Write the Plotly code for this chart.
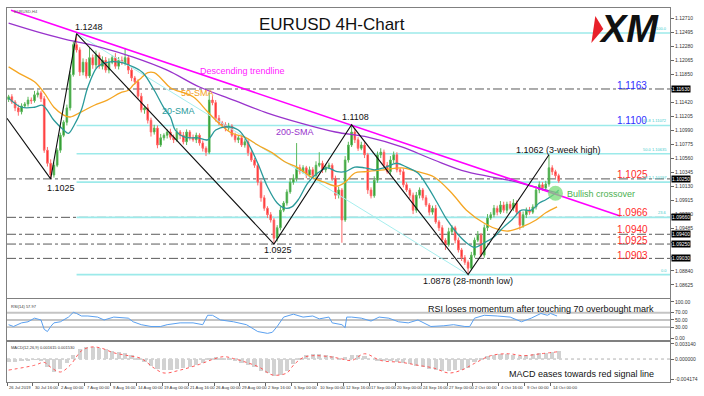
import plotly.graph_objects as go

FONT = "Liberation Sans, Arial, sans-serif"

# ---------------- data ----------------
first_open = 1.1147
close = [
    1.1151, 1.1143, 1.1134, 1.1128, 1.1137, 1.1140, 1.1146, 1.1145, 1.1154, 1.1157,
    1.1148, 1.1069, 1.1049, 1.1031, 1.1046, 1.1069, 1.1092, 1.1112, 1.1134, 1.1185,
    1.1231, 1.1223, 1.1189, 1.1204, 1.1183, 1.1211, 1.1200, 1.1215, 1.1198, 1.1207,
    1.1192, 1.1204, 1.1211, 1.1198, 1.1207, 1.1203, 1.1211, 1.1192, 1.1180, 1.1174,
    1.1152, 1.1131, 1.1134, 1.1115, 1.1097, 1.1103, 1.1077, 1.1088, 1.1092, 1.1097,
    1.1089, 1.1085, 1.1097, 1.1092, 1.1082, 1.1097, 1.1088, 1.1085, 1.1092, 1.1080,
    1.1072, 1.1066, 1.1146, 1.1142, 1.1118, 1.1111, 1.1108, 1.1103, 1.1106, 1.1092,
    1.1085, 1.1088, 1.1077, 1.1082, 1.1065, 1.1054, 1.1046, 1.1020, 1.0996, 1.0980,
    1.0970, 1.0962, 1.0934, 1.0950, 1.0977, 1.0988, 1.1005, 1.1020, 1.1026, 1.1042,
    1.1036, 1.1042, 1.1031, 1.1039, 1.1030, 1.1046, 1.1049, 1.1039, 1.1043, 1.1046,
    1.1026, 1.1000, 1.1008, 1.0962, 1.1054, 1.1077, 1.1097, 1.1085, 1.1072, 1.1077,
    1.1062, 1.1008, 1.0999, 1.1023, 1.1062, 1.1066, 1.1046, 1.1036, 1.1054, 1.1062,
    1.1039, 1.1036, 1.1016, 1.1008, 1.1000, 1.0977, 1.1000, 1.1008, 1.0996, 1.0985,
    1.0974, 1.0980, 1.0959, 1.0950, 1.0931, 1.0924, 1.0944, 1.0950, 1.0931, 1.0916,
    1.0904, 1.0897, 1.0888, 1.0908, 1.0931, 1.0939, 1.0908, 1.0950, 1.0965, 1.0970,
    1.0980, 1.0974, 1.0985, 1.0977, 1.0986, 1.0980, 1.0988, 1.0974, 1.0954, 1.0970,
    1.0977, 1.0974, 1.0982, 1.1008, 1.1016, 1.1011, 1.1017, 1.1042, 1.1036, 1.1030,
    1.1022,
]
upper_wick_pips = [
    3, 4, 3, 5, 4, 3, 5, 4, 6, 4,
    3, 4, 5, 6, 4, 3, 4, 3, 5, 6,
    5, 17, 4, 6, 5, 15, 5, 7, 4, 6,
    5, 6, 4, 7, 5, 6, 15, 4, 5, 3,
    4, 5, 3, 6, 4, 5, 4, 6, 3, 4,
    5, 4, 6, 3, 5, 4, 3, 5, 4, 3,
    4, 3, 12, 6, 4, 5, 3, 4, 5, 3,
    4, 3, 5, 4, 3, 4, 3, 2, 3, 4,
    3, 4, 3, 4, 5, 3, 4, 5, 6, 38,
    5, 4, 3, 5, 4, 6, 17, 4, 5, 4,
    3, 4, 5, 3, 6, 5, 11, 5, 4, 5,
    4, 3, 4, 6, 5, 6, 4, 5, 6, 5,
    4, 3, 5, 4, 3, 4, 5, 4, 3, 4,
    3, 4, 5, 3, 4, 3, 6, 4, 3, 4,
    3, 4, 3, 5, 4, 6, 3, 5, 6, 4,
    5, 4, 6, 5, 4, 5, 6, 4, 3, 5,
    4, 5, 4, 6, 5, 4, 5, 20, 4, 3,
    3,
]
lower_wick_pips = [
    4, 3, 5, 6, 4, 3, 4, 5, 3, 4,
    5, 4, 5, 6, 4, 3, 4, 3, 5, 4,
    3, 4, 6, 5, 4, 3, 6, 5, 4, 5,
    4, 5, 3, 4, 5, 3, 4, 6, 5, 4,
    5, 4, 6, 5, 7, 4, 5, 3, 4, 5,
    4, 5, 3, 6, 4, 5, 4, 3, 5, 4,
    5, 6, 3, 4, 5, 4, 3, 5, 4, 3,
    4, 5, 3, 4, 5, 3, 4, 5, 6, 4,
    5, 4, 9, 5, 4, 3, 4, 3, 4, 5,
    4, 3, 5, 4, 3, 4, 3, 5, 4, 3,
    4, 6, 5, 35, 3, 4, 3, 5, 4, 3,
    5, 6, 4, 3, 4, 5, 4, 3, 4, 5,
    4, 5, 4, 3, 5, 6, 4, 5, 4, 3,
    5, 4, 3, 5, 4, 8, 3, 4, 5, 4,
    5, 4, 10, 3, 4, 3, 3, 4, 5, 3,
    4, 5, 3, 4, 5, 3, 4, 5, 7, 4,
    5, 4, 3, 4, 5, 4, 3, 4, 5, 4,
    3,
]

sma20_bar = [1, 9, 17, 22, 29, 35, 38, 41, 46, 50, 56, 62, 70, 78, 84, 91, 97, 101, 104, 110,
             118, 124, 129, 135, 143, 149, 155, 161, 167, 172, 176, 180, 186, 192, 198, 204, 209, 215, 221, 227,
             233, 241, 247, 254, 260, 266, 272, 278, 284, 289, 295, 301, 307, 312, 318, 324, 329, 333, 339, 341]
sma20 = [1.1149, 1.1135, 1.1135, 1.1138, 1.1115, 1.1100, 1.1095, 1.1105, 1.1131, 1.1166,
         1.1197, 1.1204, 1.1204, 1.1197, 1.1188, 1.1161, 1.1134, 1.1120, 1.1100, 1.1089,
         1.1088, 1.1085, 1.1100, 1.1105, 1.1100, 1.1080, 1.1049, 1.1013, 1.0988, 1.0980,
         1.0982, 1.0993, 1.1019, 1.1034, 1.1042, 1.1036, 1.1036, 1.1043, 1.1042, 1.1039,
         1.1042, 1.1049, 1.1043, 1.1034, 1.1013, 1.0988, 1.0962, 1.0942, 1.0927, 1.0920,
         1.0927, 1.0936, 1.0951, 1.0962, 1.0977, 1.0977, 1.0988, 1.0993, 1.1003, 1.1008]

sma50_bar = [1, 9, 17, 23, 29, 35, 39, 46, 54, 62, 70, 75, 78, 83, 87, 91, 95, 101, 115, 124,
             132, 139, 147, 155, 164, 172, 180, 188, 196, 204, 209, 215, 221, 233, 244, 254, 264, 275, 284, 295,
             304, 310, 318, 327, 333, 340]
sma50 = [1.1197, 1.1185, 1.1174, 1.1157, 1.1135, 1.1123, 1.1120, 1.1128, 1.1138, 1.1146,
         1.1157, 1.1161, 1.1169, 1.1180, 1.1188, 1.1188, 1.1180, 1.1165, 1.1151, 1.1128,
         1.1108, 1.1095, 1.1089, 1.1077, 1.1065, 1.1051, 1.1042, 1.1028, 1.1020, 1.1014,
         1.1020, 1.1034, 1.1036, 1.1039, 1.1042, 1.1036, 1.1028, 1.1003, 1.0977, 1.0957,
         1.0947, 1.0945, 1.0951, 1.0962, 1.0973, 1.0982]

sma200_bar = [1, 21, 38, 44, 58, 78, 99, 119, 140, 161, 181, 203, 223, 244, 264, 284, 312, 333, 341]
sma200 = [1.1264, 1.1249, 1.1238, 1.1235, 1.1227, 1.1212, 1.1192, 1.1166, 1.1146, 1.1126,
          1.1111, 1.1097, 1.1089, 1.1074, 1.1054, 1.1036, 1.1022, 1.1008, 1.1003]

trend_bar = [2.5, 379]
trend_price = [1.1284, 1.0968]

zigzag_bar = [0, 27, 43, 165, 213, 285, 335]
zigzag_price = [1.1118, 1.1025, 1.1248, 1.0925, 1.1108, 1.0878, 1.1062]

fib_start_bar = 43
fib_levels = [1.1249, 1.1107, 1.10635, 1.1020, 1.0966, 1.0878]
fib_names = ["100.0", "61.8 1.11072", "50.0 1.10635", "38.2 1.10197", "23.6", "0.0"]
fib_diag_bar = [43, 285]
fib_diag_price = [1.1248, 1.0878]

sr_levels = [1.1163, 1.1025, 1.0966, 1.0940, 1.0925, 1.0903]
sr_box_text = ["1.11630", "1.10250", "1.09660", "1.09400", "1.09250", "1.09030"]

blue_text = ["1.1163", "1.1100"]
blue_pos = [1.11676, 1.11139]
red_text = ["1.1025", "1.0966", "1.0940", "1.0925", "1.0903"]
red_pos = [1.10325, 1.09734, 1.09473, 1.09297, 1.09082]
level_label_bar = 386.5

price_ticks = [1.12710, 1.12495, 1.12280, 1.12065, 1.11850, 1.11635, 1.11420, 1.11205,
               1.10990, 1.10775, 1.10560, 1.10345, 1.10130, 1.09915, 1.09700, 1.09485,
               1.09270, 1.09055, 1.08840, 1.08625]
# tick labels hidden behind the black level boxes in the reference
price_ticks_covered = [1.11635, 1.09270, 1.09055]

rsi_bar = [1, 4, 9, 13, 17, 21, 23, 25, 27, 29, 33, 38, 41, 43, 46, 50, 56, 60, 66, 75,
           78, 83, 89, 95, 99, 107, 115, 121, 124, 127, 132, 140, 148, 155, 161, 164, 167, 171, 177, 183,
           189, 193, 199, 201, 207, 209, 210, 213, 219, 225, 230, 236, 242, 248, 254, 262, 270, 276, 283, 286,
           289, 295, 303, 311, 318, 324, 330, 334, 336, 340]
rsi_val = [37, 32, 42, 45, 55, 50, 24, 18, 32, 42, 45, 58, 71, 68, 61, 61, 58, 50, 58, 55,
           45, 37, 32, 32, 37, 42, 42, 37, 63, 63, 50, 45, 37, 18, 13, 16, 32, 58, 66, 58,
           61, 53, 58, 42, 37, 29, 58, 58, 55, 47, 58, 55, 45, 42, 50, 32, 34, 37, 32, 32,
           55, 63, 61, 58, 45, 55, 68, 63, 68, 61]
rsi_levels = [70, 50, 30]

macd_hist = [-0.0006, -0.0006, -0.0004, -0.0002, -0.0001, -0.0002, -0.0016, -0.0026, -0.0020, -0.0008,
             0.0008, 0.0020, 0.0026, 0.0026, 0.0024, 0.0020, 0.0016, 0.0014, 0.0012, 0.0008,
             0.0002, -0.0006, -0.0014, -0.0020, -0.0022, -0.0022, -0.0020, -0.0018, -0.0016, -0.0012,
             -0.0008, 0.0002, 0.0004, 0.0002, 0.0001, -0.0004, -0.0008, -0.0012, -0.0016, -0.0024,
             -0.0030, -0.0036, -0.0034, -0.0024, -0.0010, 0.0002, 0.0008, 0.0010, 0.0010, 0.0008,
             0.0006, 0.0002, 0.0004, 0.0008, 0.0008, 0.0006, 0.0000, -0.0004, -0.0004, -0.0004,
             -0.0006, -0.0008, -0.0010, -0.0014, -0.0016, -0.0020, -0.0022, -0.0024, -0.0024, -0.0022,
             -0.0022, -0.0018, -0.0006, 0.0002, 0.0006, 0.0008, 0.0010, 0.0010, 0.0008, 0.0006,
             0.0008, 0.0010, 0.0012, 0.0012, 0.0014, 0.0016]
signal_bar = [1, 17, 23, 27, 33, 39, 46, 52, 58, 66, 75, 83, 91, 97, 107, 119, 127, 134, 140, 148,
              156, 164, 173, 177, 183, 189, 199, 206, 213, 221, 231, 244, 254, 264, 273, 281, 289, 299, 310, 319,
              330, 340]
signal_val = [-0.0023, -0.0013, -0.0007, -0.0017, -0.0027, -0.0013, 0.0017, 0.0025, 0.0023, 0.0013,
              0.0007, 0.0001, -0.0019, -0.0029, -0.0023, -0.0011, -0.0001, 0.0005, 0.0001, -0.0007,
              -0.0017, -0.0033, -0.0029, -0.0013, 0.0003, 0.0007, 0.0005, 0.0001, -0.0003, 0.0011,
              -0.0003, -0.0007, -0.0013, -0.0019, -0.0029, -0.0023, -0.0009, 0.0007, 0.0011, 0.0007,
              0.0011, 0.0015]

xtick_labels = ["26 Jul 2019", "30 Jul 16:00", "2 Aug 00:00", "7 Aug 00:00", "9 Aug 16:00",
                "14 Aug 00:00", "19 Aug 00:00", "21 Aug 16:00", "26 Aug 00:00", "29 Aug 00:00",
                "2 Sep 16:00", "5 Sep 00:00", "10 Sep 00:00", "12 Sep 16:00", "17 Sep 00:00",
                "20 Sep 00:00", "24 Sep 16:00", "27 Sep 00:00", "2 Oct 00:00", "4 Oct 16:00",
                "9 Oct 00:00", "14 Oct 00:00"]
BARS_PER_TICK = 16

crossover_bar, crossover_price = 339, 1.1003

# ---------------- layout constants ----------------
XMAX = 409.8
Y_MAIN = [1.08422, 1.12873]
Y_RSI = [-5.3, 107.9]
Y_MACD = [-0.00478, 0.00355]

opens = [first_open] + close[:-1]
highs = [max(o, c) + u / 10000 for o, c, u in zip(opens, close, upper_wick_pips)]
lows = [min(o, c) - l / 10000 for o, c, l in zip(opens, close, lower_wick_pips)]
bars = [2 * i + 1 for i in range(len(close))]
macd_bar = [4 * k + 1 for k in range(len(macd_hist))]
xtick_bars = [BARS_PER_TICK * k for k in range(len(xtick_labels))]
price_ticktext = ["" if v in price_ticks_covered else f"{v:.5f}" for v in price_ticks]

fig = go.Figure()

# main chart
fig.add_trace(go.Scatter(x=fib_diag_bar, y=fib_diag_price, mode="lines",
                         line=dict(color="#a6eeee", width=1), xaxis="x", yaxis="y", hoverinfo="skip"))
fig.add_trace(go.Candlestick(
    x=bars, open=opens, high=highs, low=lows, close=close,
    increasing=dict(line=dict(color="#5cb85c", width=1), fillcolor="#1f8f1f"),
    decreasing=dict(line=dict(color="#ff6a6a", width=1), fillcolor="#ff1a1a"),
    whiskerwidth=0, xaxis="x", yaxis="y"))
fig.add_trace(go.Scatter(x=sma200_bar, y=sma200, mode="lines", line=dict(color="#9933cc", width=1.3, shape="spline"),
                         xaxis="x", yaxis="y"))
fig.add_trace(go.Scatter(x=sma50_bar, y=sma50, mode="lines", line=dict(color="#f5a623", width=1.3, shape="spline"),
                         xaxis="x", yaxis="y"))
fig.add_trace(go.Scatter(x=sma20_bar, y=sma20, mode="lines", line=dict(color="#2a9a9a", width=1.3, shape="spline"),
                         xaxis="x", yaxis="y"))
fig.add_trace(go.Scatter(x=trend_bar, y=trend_price, mode="lines", line=dict(color="#ff00ff", width=1.6),
                         xaxis="x", yaxis="y"))
fig.add_trace(go.Scatter(x=zigzag_bar, y=zigzag_price, mode="lines", line=dict(color="#111111", width=1.1),
                         xaxis="x", yaxis="y"))
fig.add_trace(go.Scatter(x=[crossover_bar], y=[crossover_price], mode="markers",
                         marker=dict(size=15, color="rgba(120,220,120,0.75)"), xaxis="x", yaxis="y"))

# RSI
fig.add_trace(go.Scatter(x=rsi_bar, y=rsi_val, mode="lines", line=dict(color="#5aa0f0", width=1),
                         xaxis="x2", yaxis="y2"))
# MACD
fig.add_trace(go.Bar(x=macd_bar, y=macd_hist, width=2.6, marker=dict(color="#d2d2d2", line=dict(width=0)),
                     xaxis="x3", yaxis="y3"))
fig.add_trace(go.Scatter(x=signal_bar, y=signal_val, mode="lines", line=dict(color="#ff5a5a", width=1, dash="dot", shape="spline"),
                         xaxis="x3", yaxis="y3"))

shapes = []
for lv in fib_levels:
    shapes.append(dict(type="line", xref="x", yref="y", x0=fib_start_bar, x1=XMAX, y0=lv, y1=lv,
                       line=dict(color="#9ceaea", width=1.6), layer="below"))
for lv in sr_levels:
    shapes.append(dict(type="line", xref="x domain", yref="y", x0=0, x1=1, y0=lv, y1=lv,
                       line=dict(color="#5a5a5a", width=1, dash="dashdot"), layer="below"))
for lv in rsi_levels:
    shapes.append(dict(type="line", xref="x2 domain", yref="y2", x0=0, x1=1, y0=lv, y1=lv,
                       line=dict(color="#c4c4c4", width=1.8), layer="below"))
shapes.append(dict(type="line", xref="x3 domain", yref="y3", x0=0, x1=1, y0=0, y1=0,
                   line=dict(color="#b0b0b0", width=1, dash="dot"), layer="below"))
# XM logo red mark
shapes.append(dict(type="path", xref="paper", yref="paper",
                   path="M 0.8874 0.9786 L 0.8994 0.9439 L 0.8814 0.9064 Z",
                   fillcolor="#e8202a", line=dict(width=0)))

ann = []
def txt(x, y, s, color="#111111", size=9, xref="x", yref="y", xanchor="center", yanchor="middle", **kw):
    ann.append(dict(x=x, y=y, text=s, xref=xref, yref=yref, showarrow=False, xanchor=xanchor,
                    yanchor=yanchor, font=dict(family=FONT, size=size, color=color), **kw))

txt(0.4895, 0.957, "EURUSD 4H-Chart", size=17, xref="paper", yref="paper")
txt(0.9384, 0.945, "<b><i>XM</i></b>", size=38, xref="paper", yref="paper")
txt(3, 1.1282, "EURUSD,H4", size=4, color="#555555", xanchor="left")
txt(50.8, 1.12589, "1.1248")
txt(33.2, 1.10110, "1.1025")
txt(145.8, 1.11899, "Descending trendline", color="#ff22ff")
txt(117.5, 1.11561, "50-SMA", color="#f5a020")
txt(105.8, 1.11292, "20-SMA", color="#2a9a9a")
txt(177.8, 1.10970, "200-SMA", color="#9933cc")
txt(215.4, 1.11200, "1.1108")
txt(167.4, 1.09159, "1.0925")
txt(340.9, 1.10686, "1.1062 (3-week high)")
txt(345.2, 1.10011, "Bullish crossover", color="#4cb050", xanchor="left")
txt(284.9, 1.08683, "1.0878 (28-month low)")
for s, p in zip(blue_text, blue_pos):
    txt(level_label_bar, p, s, color="#3030ff", size=10)
for s, p in zip(red_text, red_pos):
    txt(level_label_bar, p, s, color="#ff2a2a", size=10)
for s, lv in zip(fib_names, fib_levels):
    txt(XMAX - 0.5, lv, s, color="#40cccc", size=4, xanchor="right", yanchor="bottom")
for s, lv in zip(sr_box_text, sr_levels):
    ann.append(dict(x=1, y=lv, xref="paper", yref="y", text=s, showarrow=False, xanchor="left",
                    yanchor="middle", xshift=1, bgcolor="#000000", borderpad=0,
                    font=dict(family=FONT, size=5, color="#ffffff")))
txt(329.8, 81.6, "RSI loses momentum after touching 70 overbought mark", yref="y2")
txt(355, -0.00305, "MACD eases towards red signal line", yref="y3")
txt(1, 100, "RSI(14) 57.97", size=4, color="#333333", xanchor="left", yref="y2", yanchor="top")
txt(1, 0.0034, "MACD(12,26,9) 0.001615 0.001530", size=4, color="#333333", xanchor="left", yref="y3", yanchor="top")
for b, s in zip(xtick_bars, xtick_labels):
    ann.append(dict(x=b, y=0, xref="x3", yref="paper", text=s, showarrow=False, xanchor="left",
                    yanchor="top", xshift=0, yshift=-1, font=dict(family=FONT, size=4.2, color="#333333")))

axis_common = dict(showgrid=False, zeroline=False, showline=True, mirror=True, linecolor="#808080", linewidth=1)
fig.update_layout(
    width=704, height=396,
    margin=dict(l=6, r=32, t=8, b=14),
    paper_bgcolor="white", plot_bgcolor="white",
    showlegend=False, bargap=0,
    font=dict(family=FONT),
    xaxis=dict(domain=[0, 1], range=[0, XMAX], anchor="y", showticklabels=False,
               rangeslider=dict(visible=False), **axis_common),
    xaxis2=dict(domain=[0, 1], range=[0, XMAX], anchor="y2", matches="x", showticklabels=False, **axis_common),
    xaxis3=dict(domain=[0, 1], range=[0, XMAX], anchor="y3", matches="x", showticklabels=False,
                ticks="outside", ticklen=3, tickcolor="#666666", tickvals=xtick_bars, **axis_common),
    yaxis=dict(domain=[0.2246, 1], range=Y_MAIN, side="right", anchor="x",
               tickvals=price_ticks, ticktext=price_ticktext,
               ticks="outside", ticklen=3, tickcolor="#666666",
               tickfont=dict(size=5, color="#333333"), **axis_common),
    yaxis2=dict(domain=[0.1123, 0.2219], range=Y_RSI, side="right", anchor="x2",
                tickvals=[100, 70, 50, 30, 0], ticktext=["100.00", "70.00", "50.00", "30.00", "0.00"],
                ticks="outside", ticklen=3, tickcolor="#666666",
                tickfont=dict(size=5, color="#333333"), **axis_common),
    yaxis3=dict(domain=[0, 0.1070], range=Y_MACD, side="right", anchor="x3",
                tickvals=[0.00314, 0.0, -0.004174], ticktext=["0.003140", "0.000000", "-0.004174"],
                ticks="outside", ticklen=3, tickcolor="#666666",
                tickfont=dict(size=5, color="#333333"), **axis_common),
    shapes=shapes,
    annotations=ann,
)

fig.write_html("out.html", config={"displayModeBar": False},
               post_script="document.body.style.margin='0px';document.body.style.overflow='hidden';")
